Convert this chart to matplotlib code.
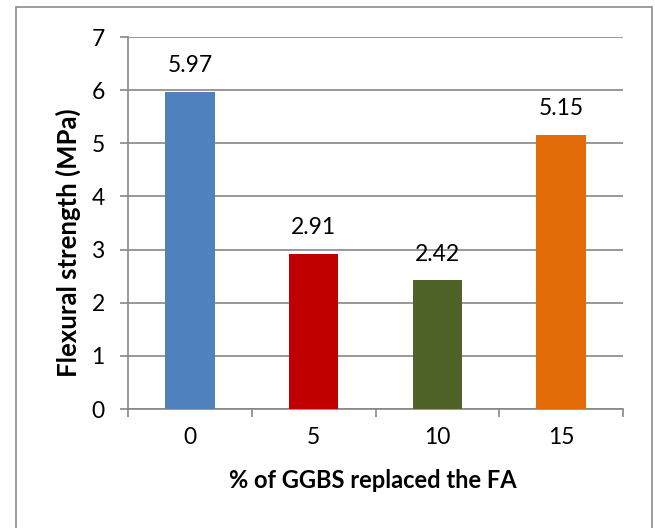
import matplotlib
matplotlib.use("Agg")
import matplotlib.pyplot as plt
from matplotlib.patches import Rectangle

categories = ["0", "5", "10", "15"]
values = [5.97, 2.91, 2.42, 5.15]
value_labels = ["5.97", "2.91", "2.42", "5.15"]
colors = ["#4f81bd", "#c00000", "#4f6228", "#e36c09"]

plt.rcParams['font.family'] = ['Lato', 'DejaVu Sans']

W, H = 655, 528
fig = plt.figure(figsize=(W/100, H/100), dpi=100)
L, R, T, B = 128, 623, 37, 409
ax = fig.add_axes([L/W, 1-B/H, (R-L)/W, (B-T)/H])

# outer border (bottom edge lies outside the image)
border = Rectangle((16/W, -0.05), (652-16)/W, (H-7)/H + 0.05,
                   transform=fig.transFigure, fill=False,
                   edgecolor="#8c8c8c", linewidth=1.2)
fig.patches.append(border)

x = list(range(len(categories)))
ax.bar(x, values, width=0.4, color=colors, zorder=3)
for xi, v, lab in zip(x, values, value_labels):
    ax.annotate(lab, (xi, v), xytext=(0, 19), textcoords="offset points",
                ha="center", va="center", fontsize=16.5, color="black")

ax.set_xlim(-0.5, 3.5)
ax.set_ylim(0, 7)
ax.set_yticks(range(0, 8))
ax.set_xticks([-0.5, 0.5, 1.5, 2.5, 3.5])
ax.set_xticklabels([])
ax.set_xticks(x, minor=True)
ax.set_xticklabels(categories, minor=True)
ax.tick_params(axis="x", which="minor", length=0, pad=13, labelsize=16.5)
ax.tick_params(axis="x", which="major", length=5.5, width=1.2, color="#868686", direction="out")
ax.tick_params(axis="y", length=5.8, width=1.2, color="#868686", direction="out",
               labelsize=16.5, pad=11)

ax.yaxis.grid(True, color="#868686", linewidth=1.2, zorder=0)
ax.set_axisbelow(True)
for s in ["top", "right"]:
    ax.spines[s].set_visible(False)
for s in ["left", "bottom"]:
    ax.spines[s].set_color("#868686")
    ax.spines[s].set_linewidth(1.2)

ax.set_ylabel("Flexural strength (MPa)", fontsize=18.5, fontweight="bold", va="center")
ax.yaxis.set_label_coords((68-L)/(R-L), (B-243)/(B-T))
ax.set_xlabel("% of GGBS replaced the FA", fontsize=17, fontweight="bold", va="center")
ax.xaxis.set_label_coords((373-L)/(R-L), -(481-B)/(B-T))

fig.savefig("out.png", dpi=100)
